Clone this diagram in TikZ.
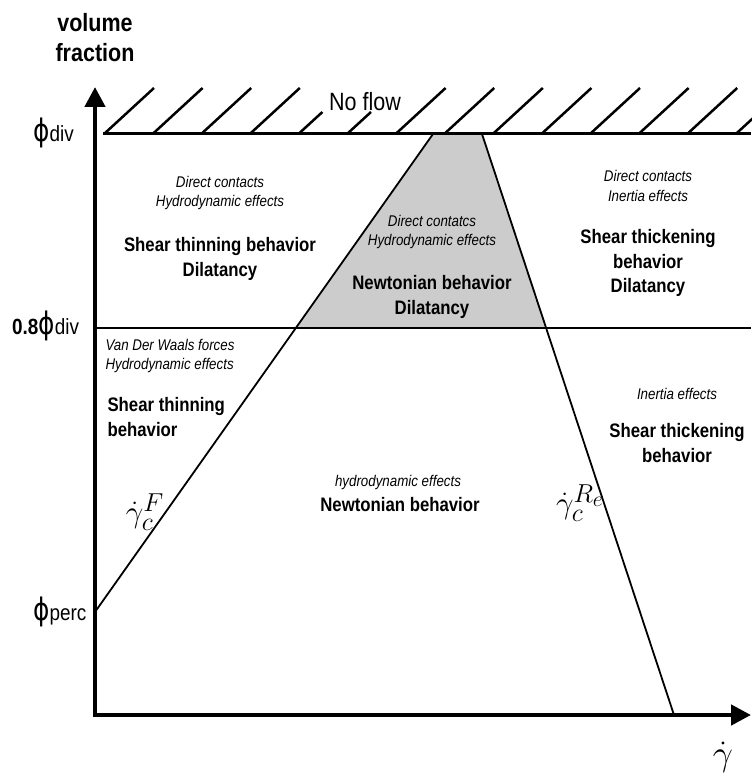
\documentclass[tikz,border=0pt]{standalone}
\usepackage{fontspec}
\setmainfont{Liberation Sans}[FakeStretch=0.86]
\newfontfamily\phifont{DejaVu Sans}[FakeStretch=0.8]
\usetikzlibrary{arrows.meta}
\newcommand{\phisym}{{\phifont\fontsize{31}{31}\selectfont ϕ}}
\tikzset{
  boldlbl/.style={font=\bfseries\fontsize{19.5}{24.5}\selectfont, align=center},
  itallbl/.style={font=\itshape\fontsize{15.5}{19.5}\selectfont, align=center},
  ticklbl/.style={font=\fontsize{22}{22}\selectfont, anchor=west, inner sep=0pt},
  ratelbl/.style={font=\Huge, scale=1.25, inner sep=0pt},
  axisline/.style={line width=4.5pt, {Triangle[length=20pt,width=20pt]}-{Triangle[length=20pt,width=20pt]}},
  bound/.style={line width=1.8pt},
  hatch/.style={line width=2.5pt},
}
\begin{document}
\begin{tikzpicture}[x=1pt,y=-1pt]
\useasboundingbox (0,0) rectangle (751,775);
% frame points
\coordinate (O) at (95,715);
\coordinate (ytip) at (95,87);
\coordinate (xtip) at (751,715);
\coordinate (perc) at (95,612);
\coordinate (divL) at (103,134);
\coordinate (divR) at (751,134);
\coordinate (midL) at (95,328);
\coordinate (midR) at (751,328);
\coordinate (Ftop) at (433,134);
\coordinate (Rtop) at (482,134);
\coordinate (Rbot) at (674,715);
% grey zone
\fill[gray!40] (296,328) -- (Ftop) -- (Rtop) -- (547,328) -- cycle;
% axes
\draw[axisline] (ytip) |- (xtip);
\draw[line width=3pt] (divL) -- (divR);
\draw[line width=2pt] (midL) -- (midR);
\draw[bound] (perc) -- (Ftop);
\draw[bound] (Rtop) -- (Rbot);
% no flow hatching
\foreach \x in {104,152.6,201.2,249.8,395.6,444.2,492.8,541.4,590,638.6,687.2,735.8}
  \draw[hatch] (\x,134) -- ++(50,-46);
\foreach \x in {298.4,347}
  \draw[hatch] (\x,134) -- ++(24,-22);
\node[font=\fontsize{25}{25}\selectfont] (noflow) at (365,102) {No flow};
% axis labels
\node[font=\bfseries\fontsize{25}{30}\selectfont, align=center] (vfrac) at (95,38) {volume\\fraction};
\node[ticklbl] (ldiv) at (33,133) {\phisym div};
\node[ticklbl] (lmid) at (12,326) {\bfseries 0.8\mdseries\phisym div};
\node[ticklbl] (lperc) at (33,612) {\phisym perc};
\node[ratelbl, scale=1.15] (gdot) at (723,757) {$\dot{\gamma}$};
% upper regions
\node[itallbl] (ulA) at (220,193) {Direct contacts\\Hydrodynamic effects};
\node[boldlbl] (ulB) at (220,259) {Shear thinning behavior\\Dilatancy};
\node[itallbl] (ucA) at (432,232) {Direct contatcs\\Hydrodynamic effects};
\node[boldlbl] (ucB) at (432,297) {Newtonian behavior\\Dilatancy};
\node[itallbl] (urA) at (648,186) {Direct contacts\\Inertia effects};
\node[boldlbl] (urB) at (648,263) {Shear thickening\\behavior\\Dilatancy};
% lower regions
\node[itallbl, align=left] (llA) at (170,356) {Van Der Waals forces\\Hydrodynamic effects};
\node[boldlbl, align=left, anchor=west] (llB) at (104,417) {Shear thinning\\behavior};
\node[itallbl] (lcA) at (398,482) {hydrodynamic effects};
\node[boldlbl] (lcB) at (400,505) {Newtonian behavior};
\node[itallbl] (lrA) at (677,394) {Inertia effects};
\node[boldlbl] (lrB) at (677,443) {Shear thickening\\behavior};
% critical shear rates
\node[ratelbl] (gF) at (145,512) {$\dot{\gamma}_c^{F}$};
\node[ratelbl] (gRe) at (580,503) {$\dot{\gamma}_c^{R_e}$};
\end{tikzpicture}
\end{document}
